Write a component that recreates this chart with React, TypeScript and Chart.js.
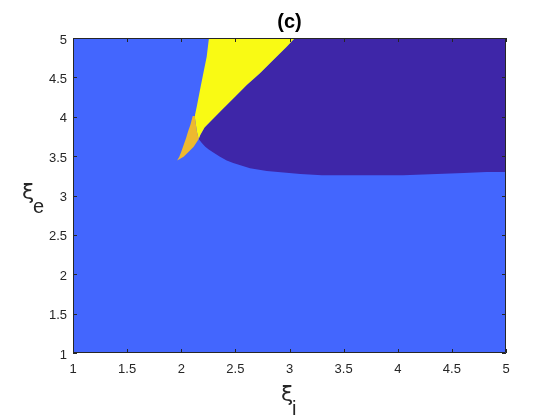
import React, { useEffect, useRef } from "react";
import { Chart, registerables } from "chart.js";

Chart.register(...registerables);

// ---- data (region boundaries in data coordinates) ----
const backgroundX = [1, 5, 5, 1];
const backgroundY = [1, 1, 5, 5];

const purpleX = [3.05, 5, 5, 4.82, 4.61, 4.36, 4.05, 3.3, 3.1, 2.79, 2.635, 2.48, 2.42, 2.358, 2.296, 2.254, 2.222, 2.192, 2.161, 2.176, 2.215, 2.283, 2.374, 2.497, 2.605, 2.727, 2.85, 2.974];
const purpleY = [5, 5, 3.3, 3.299, 3.286, 3.273, 3.257, 3.258, 3.273, 3.311, 3.345, 3.412, 3.445, 3.493, 3.545, 3.585, 3.62, 3.663, 3.717, 3.768, 3.865, 3.959, 4.086, 4.255, 4.403, 4.552, 4.721, 4.89];

const yellowX = [2.256, 3.05, 2.974, 2.85, 2.727, 2.605, 2.497, 2.374, 2.283, 2.215, 2.176, 2.161, 2.145, 2.136, 2.124, 2.127, 2.143, 2.173, 2.204, 2.235];
const yellowY = [5, 5, 4.89, 4.721, 4.552, 4.403, 4.255, 4.086, 3.959, 3.865, 3.768, 3.717, 3.81, 3.895, 4.01, 4.022, 4.128, 4.34, 4.552, 4.763];

const orangeX = [2.106, 2.124, 2.136, 2.145, 2.161, 2.145, 2.115, 2.069, 2.022, 1.962, 1.982, 2.0, 2.022, 2.044, 2.062, 2.084];
const orangeY = [4.01, 4.01, 3.895, 3.81, 3.717, 3.683, 3.62, 3.556, 3.493, 3.445, 3.493, 3.556, 3.641, 3.726, 3.81, 3.895];

const xTicks = [1, 1.5, 2, 2.5, 3, 3.5, 4, 4.5, 5];
const yTicks = [1, 1.5, 2, 2.5, 3, 3.5, 4, 4.5, 5];
const xTickLabels = ["1", "1.5", "2", "2.5", "3", "3.5", "4", "4.5", "5"];
const yTickLabels = ["1", "1.5", "2", "2.5", "3", "3.5", "4", "4.5", "5"];

const titleText = "(c)";
const xLabelMain = "ξ";
const xLabelSub = "i";
const yLabelMain = "ξ";
const yLabelSub = "e";

const toPts = (xs: number[], ys: number[]) => xs.map((x, i) => ({ x, y: ys[i] }));

const AXIS = "#262626";
const TICK_LEN = 4;

const decor = {
  id: "decor",
  afterDraw(chart: any) {
    const { ctx, chartArea: a, scales } = chart;
    const xs = scales.x;
    const ys = scales.y;
    ctx.save();
    ctx.strokeStyle = AXIS;
    ctx.lineWidth = 1;
    ctx.beginPath();
    ctx.rect(Math.round(a.left) + 0.5, Math.round(a.top) + 0.5, Math.round(a.right - a.left) - 1, Math.round(a.bottom - a.top) - 1);
    for (const v of xTicks) {
      const px = Math.round(xs.getPixelForValue(v)) + 0.5;
      ctx.moveTo(px, a.bottom);
      ctx.lineTo(px, a.bottom - TICK_LEN);
      ctx.moveTo(px, a.top);
      ctx.lineTo(px, a.top + TICK_LEN);
    }
    for (const v of yTicks) {
      const py = Math.round(ys.getPixelForValue(v)) + 0.5;
      ctx.moveTo(a.left, py);
      ctx.lineTo(a.left + TICK_LEN, py);
      ctx.moveTo(a.right, py);
      ctx.lineTo(a.right - TICK_LEN, py);
    }
    ctx.stroke();

    // title
    ctx.fillStyle = "#000";
    ctx.textAlign = "center";
    ctx.textBaseline = "alphabetic";
    ctx.font = 'bold 20px "Liberation Sans"';
    ctx.fillText(titleText, (a.left + a.right) / 2, 28);

    // axis labels
    ctx.fillStyle = AXIS;
    ctx.textAlign = "left";
    ctx.font = '22px "DejaVu Sans"';
    ctx.fillText(xLabelMain, 281, 401);
    ctx.fillText(yLabelMain, 22, 199);
    ctx.font = '20px "Liberation Sans"';
    ctx.fillText(xLabelSub, 292, 415);
    ctx.fillText(yLabelSub, 33, 213);
    ctx.restore();
  },
};

export default function App() {
  const ref = useRef<HTMLCanvasElement | null>(null);
  useEffect(() => {
    if (!ref.current) return;
    const region = (xs: number[], ys: number[], color: string, order: number) => ({
      data: toPts(xs, ys),
      showLine: true,
      fill: "shape",
      backgroundColor: color,
      borderColor: color,
      borderWidth: 0,
      pointRadius: 0,
      pointHoverRadius: 0,
      tension: 0,
      order,
    });
    const chart = new Chart(ref.current, {
      type: "scatter",
      data: {
        datasets: [
          region(orangeX, orangeY, "#EDB92F", 1),
          region(yellowX, yellowY, "#F9FA14", 2),
          region(purpleX, purpleY, "#3E26A8", 3),
          region(backgroundX, backgroundY, "#4366FE", 4),
        ] as any,
      },
      options: {
        animation: false,
        responsive: false,
        layout: { padding: { left: 0, top: 38, right: 54, bottom: 0 } },
        plugins: { legend: { display: false }, tooltip: { enabled: false }, title: { display: false } },
        scales: {
          x: {
            type: "linear",
            min: 1,
            max: 5,
            afterBuildTicks: (s: any) => {
              s.ticks = xTicks.map((v) => ({ value: v }));
            },
            afterFit: (s: any) => {
              s.height = 67;
            },
            grid: { display: false, drawTicks: false },
            border: { display: false },
            ticks: {
              padding: 9,
              color: AXIS,
              font: { family: "Liberation Sans", size: 13 },
              maxRotation: 0,
              autoSkip: false,
              callback: (v: any) => xTickLabels[xTicks.indexOf(Number(v))] ?? "",
            },
          },
          y: {
            type: "linear",
            min: 1,
            max: 5,
            afterBuildTicks: (s: any) => {
              s.ticks = yTicks.map((v) => ({ value: v }));
            },
            afterFit: (s: any) => {
              s.width = 73;
            },
            grid: { display: false, drawTicks: false },
            border: { display: false },
            ticks: {
              padding: 6,
              labelOffset: 2,
              color: AXIS,
              font: { family: "Liberation Sans", size: 13 },
              autoSkip: false,
              callback: (v: any) => yTickLabels[yTicks.indexOf(Number(v))] ?? "",
            },
          },
        },
      },
      plugins: [decor],
    });
    return () => chart.destroy();
  }, []);
  return (
    <div style={{ position: "fixed", left: 0, top: 0, width: 560, height: 420, background: "#fff" }}>
      <canvas ref={ref} width={560} height={420} style={{ display: "block" }} />
    </div>
  );
}
